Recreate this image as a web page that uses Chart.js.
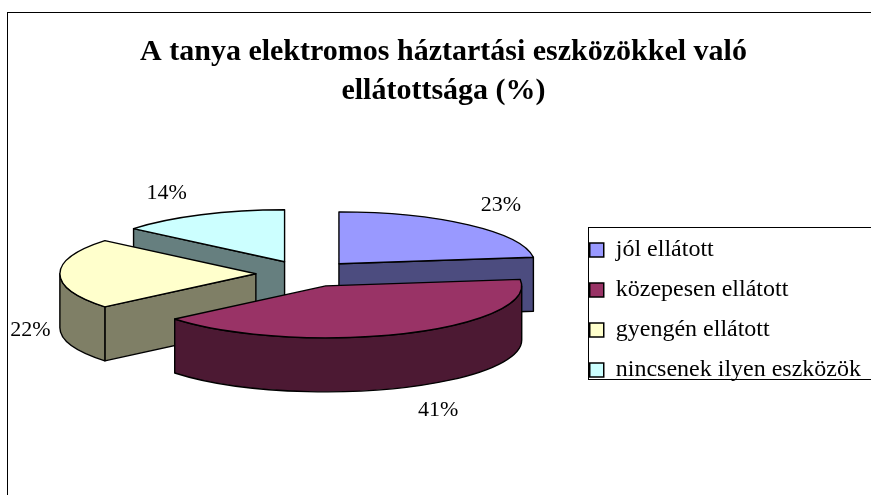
<!DOCTYPE html>
<html><head><meta charset="utf-8">
<script src="https://cdn.jsdelivr.net/npm/chart.js@4.4.0/dist/chart.umd.min.js"></script>
<style>html,body{margin:0;padding:0;background:#fff;overflow:hidden}</style>
</head><body>
<canvas id="c" width="871" height="495"></canvas>
<script>
// ---- data ----
const categories = ['jól ellátott', 'közepesen ellátott', 'gyengén ellátott', 'nincsenek ilyen eszközök'];
const shares = [23, 41, 22, 14];
const topColors = ['#9999FF', '#993366', '#FFFFCC', '#CCFFFF'];
const sideColors = ['#4C4C7F', '#4C1933', '#7F7F66', '#667F7F'];
const titleLines = ['A tanya elektromos háztartási eszközökkel való', 'ellátottsága (%)'];

// ---- 3D look (style only) ----
const TILT = 0.265, DEPTH = 54, EXPLODE = 50, LIFT = -34, SHIFT_X = 11;
const SERIF = '"Liberation Serif", "Times New Roman", serif';

const pie3d = {
  id: 'pie3d',
  beforeDraw(chart) {
    const ctx = chart.ctx;
    ctx.save();
    ctx.fillStyle = '#fff';
    ctx.fillRect(0, 0, chart.width, chart.height);
    ctx.strokeStyle = '#000';
    ctx.lineWidth = 1;
    ctx.strokeRect(7.5, 12.5, chart.width + 20, chart.height + 20);
    ctx.restore();
  },
  beforeDatasetsDraw(chart) {
    const ctx = chart.ctx;
    const meta = chart.getDatasetMeta(0);
    const slices = meta.data.map((a, i) => {
      const p = a.getProps(['x', 'y', 'startAngle', 'endAngle', 'outerRadius'], true);
      const mid = (p.startAngle + p.endAngle) / 2;
      const ox = Math.cos(mid) * EXPLODE + SHIFT_X, oy = Math.sin(mid) * EXPLODE;
      return { a, i, p, mid, ox, cx: p.x + ox, cy: p.y + LIFT + oy * TILT, R: p.outerRadius };
    });
    const order = slices.slice().sort((u, v) => u.cy - v.cy);
    const X = (s, t) => s.cx + s.R * Math.cos(t);
    const Y = (s, t) => s.cy + s.R * TILT * Math.sin(t);

    function face(s, t) {
      ctx.beginPath();
      ctx.moveTo(s.cx, s.cy);
      ctx.lineTo(X(s, t), Y(s, t));
      ctx.lineTo(X(s, t), Y(s, t) + DEPTH);
      ctx.lineTo(s.cx, s.cy + DEPTH);
      ctx.closePath();
      ctx.fill(); ctx.stroke();
    }
    order.forEach(s => {
      const st = s.p.startAngle, en = s.p.endAngle;
      ctx.save();
      ctx.fillStyle = sideColors[s.i];
      ctx.strokeStyle = '#000';
      ctx.lineWidth = 1.4;
      ctx.lineJoin = 'round';
      if (Math.sin(st - Math.PI / 2) > 0.001) face(s, st);
      if (Math.sin(en + Math.PI / 2) > 0.001) face(s, en);
      const lo = Math.max(st, 0), hi = Math.min(en, Math.PI);
      if (hi > lo) {
        ctx.beginPath();
        ctx.ellipse(s.cx, s.cy, s.R, s.R * TILT, 0, lo, hi);
        ctx.lineTo(X(s, hi), Y(s, hi) + DEPTH);
        ctx.ellipse(s.cx, s.cy + DEPTH, s.R, s.R * TILT, 0, hi, lo, true);
        ctx.closePath();
        ctx.fill(); ctx.stroke();
      }
      ctx.restore();
      // top face: the library's own arc element, projected onto the tilted plane
      ctx.save();
      ctx.translate(s.ox, s.cy);
      ctx.scale(1, TILT);
      ctx.translate(0, -s.p.y);
      s.a.draw(ctx);
      ctx.restore();
      ctx.save();
      ctx.strokeStyle = '#000';
      ctx.lineWidth = 1.4;
      ctx.lineJoin = 'round';
      ctx.beginPath();
      ctx.moveTo(s.cx, s.cy);
      ctx.ellipse(s.cx, s.cy, s.R, s.R * TILT, 0, st, en);
      ctx.closePath();
      ctx.stroke();
      ctx.restore();
    });
    // percentage labels
    ctx.save();
    ctx.font = '22px ' + SERIF;
    ctx.fillStyle = '#000';
    ctx.textAlign = 'center';
    ctx.textBaseline = 'middle';
    slices.forEach(s => {
      const txt = shares[s.i] + '%';
      const hw = ctx.measureText(txt).width / 2;
      const c = Math.cos(s.mid), sn = Math.sin(s.mid);
      const lx = s.cx + 0.955 * s.R * c + (hw + 18) * Math.sign(c);
      const ry = s.R * TILT * 1.15;
      const ly = s.cy + (sn > -0.2 ? 1.05 * DEPTH + (ry + 14) * sn : ry * sn - 14);
      ctx.fillText(txt, lx, ly);
    });
    ctx.restore();
    return false;
  },
  afterDraw(chart) {
    const lg = chart.legend;
    if (!lg || !lg.legendHitBoxes || !lg.legendHitBoxes.length) return;
    const hb = lg.legendHitBoxes;
    const ctx = chart.ctx;
    const last = hb[hb.length - 1];
    const l = hb[0].left - 2, t = hb[0].top - 11;
    const b = last.top + last.height - 3;
    ctx.save();
    ctx.strokeStyle = '#000';
    ctx.lineWidth = 1;
    ctx.strokeRect(Math.round(l) + 0.5, Math.round(t) + 0.5, chart.width, Math.round(b - t));
    ctx.restore();
  }
};

new Chart(document.getElementById('c'), {
  type: 'pie',
  data: {
    labels: categories,
    datasets: [{ data: shares, backgroundColor: topColors, borderWidth: 0, offset: 0, radius: 196 }]
  },
  options: {
    responsive: false,
    animation: false,
    events: [],
    layout: { padding: { left: 16, right: 0, top: 32, bottom: 0 } },
    plugins: {
      tooltip: { enabled: false },
      title: {
        display: true,
        text: titleLines,
        color: '#000',
        font: { family: SERIF, size: 30, weight: 'bold', lineHeight: 1.3 },
        padding: { top: 0.5, bottom: 10 }
      },
      legend: {
        position: 'right',
        title: { display: true, text: '', font: { size: 10 }, padding: { top: 0, bottom: 81 } },
        labels: {
          color: '#000',
          font: { family: SERIF, size: 24 },
          boxWidth: 14, boxHeight: 14,
          padding: 16,
          generateLabels: () => categories.map((c, i) => ({
            text: c, fillStyle: topColors[i], strokeStyle: '#000', lineWidth: 1.5,
            hidden: false, index: i, datasetIndex: 0, fontColor: '#000'
          }))
        }
      }
    }
  },
  plugins: [pie3d]
});
</script>
</body></html>
